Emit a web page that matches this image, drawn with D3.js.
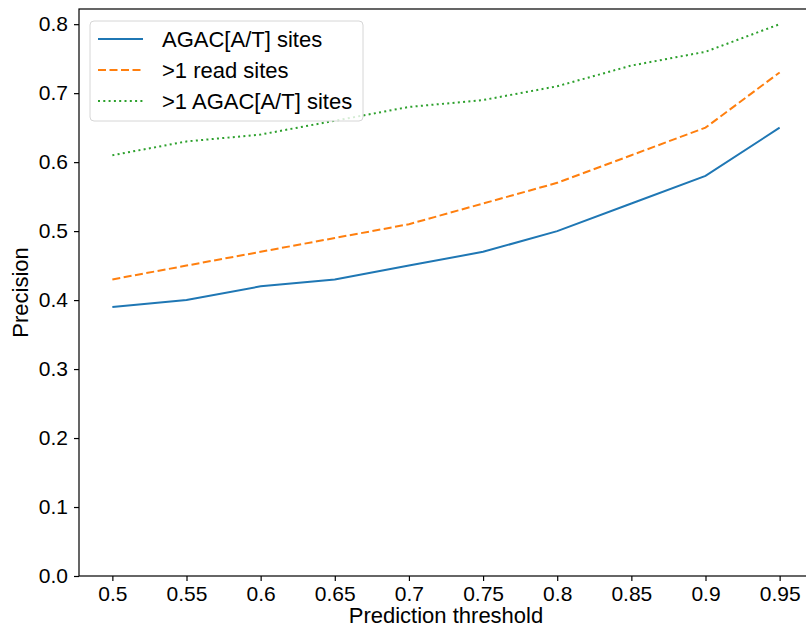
<!DOCTYPE html>
<meta charset="utf-8">
<head>
<style>
  body { margin: 0; background: #fff; }
  svg text { font-family: "Liberation Sans", Arial, sans-serif; fill: #000; }
  .axis path, .axis line { stroke: #000; stroke-width: 1.2; }
</style>
</head>
<body>
<script src="https://d3js.org/d3.v7.min.js"></script>
<script>
  var thresholds = ["0.5", "0.55", "0.6", "0.65", "0.7", "0.75", "0.8", "0.85", "0.9", "0.95"];
  var agacSites = [0.39, 0.40, 0.42, 0.43, 0.45, 0.47, 0.50, 0.54, 0.58, 0.65];
  var readSites = [0.43, 0.45, 0.47, 0.49, 0.51, 0.54, 0.57, 0.61, 0.65, 0.73];
  var multiAgacSites = [0.61, 0.63, 0.64, 0.66, 0.68, 0.69, 0.71, 0.74, 0.76, 0.80];
  var yTicks = [0.0, 0.1, 0.2, 0.3, 0.4, 0.5, 0.6, 0.7, 0.8];
  var seriesNames = ["AGAC[A/T] sites", ">1 read sites", ">1 AGAC[A/T] sites"];

  var w = 806, h = 629;
  var plotLeft = 79, plotRight = 813, plotTop = 9, plotBottom = 576;

  var series = [
    { name: seriesNames[0], values: agacSites, color: "#1f77b4", dash: null },
    { name: seriesNames[1], values: readSites, color: "#ff7f0e", dash: "8,3.5" },
    { name: seriesNames[2], values: multiAgacSites, color: "#2ca02c", dash: "2,3.3" }
  ];

  var svg = d3.select("body").append("svg")
      .attr("width", w)
      .attr("height", h);

  var x = d3.scalePoint().domain(thresholds).range([plotLeft, plotRight]).padding(0.45);
  var y = d3.scaleLinear().domain([0, 0.822]).range([plotBottom, plotTop]);

  // frame (right edge falls just outside the picture)
  svg.append("rect")
      .attr("x", plotLeft).attr("y", plotTop)
      .attr("width", plotRight - plotLeft).attr("height", plotBottom - plotTop)
      .attr("fill", "none").attr("stroke", "#000").attr("stroke-width", 1.2);

  var xAxis = svg.append("g").attr("class", "axis")
      .attr("transform", "translate(0," + plotBottom + ")")
      .call(d3.axisBottom(x).tickSize(5).tickPadding(5));
  xAxis.select(".domain").remove();
  xAxis.selectAll("text").style("font-size", "21px");

  var yAxis = svg.append("g").attr("class", "axis")
      .attr("transform", "translate(" + plotLeft + ",0)")
      .call(d3.axisLeft(y).tickValues(yTicks).tickFormat(d3.format(".1f")).tickSize(5).tickPadding(6));
  yAxis.select(".domain").remove();
  yAxis.selectAll("text").style("font-size", "21px");

  var line = d3.line()
      .x(function(d, i) { return x(thresholds[i]); })
      .y(function(d) { return y(d); });

  svg.selectAll(".series")
      .data(series)
      .enter()
      .append("path")
      .attr("class", "series")
      .attr("d", function(s) { return line(s.values); })
      .attr("fill", "none")
      .attr("stroke", function(s) { return s.color; })
      .attr("stroke-width", 2)
      .attr("stroke-dasharray", function(s) { return s.dash; });

  // axis labels
  svg.append("text")
      .attr("x", 446).attr("y", 623)
      .attr("text-anchor", "middle")
      .style("font-size", "22px")
      .text("Prediction threshold");

  svg.append("text")
      .attr("transform", "translate(28," + ((plotTop + plotBottom) / 2) + ") rotate(-90)")
      .attr("text-anchor", "middle")
      .style("font-size", "22px")
      .text("Precision");

  // legend
  var legend = svg.append("g").attr("transform", "translate(90,21)");
  legend.append("rect")
      .attr("width", 273).attr("height", 100)
      .attr("rx", 4)
      .attr("fill", "#fff").attr("fill-opacity", 0.8)
      .attr("stroke", "#d6d6d6").attr("stroke-width", 1);

  var rows = legend.selectAll(".row")
      .data(series)
      .enter()
      .append("g")
      .attr("class", "row")
      .attr("transform", function(d, i) { return "translate(0," + (18 + i * 31) + ")"; });

  rows.append("line")
      .attr("x1", 8).attr("x2", 53)
      .attr("stroke", function(s) { return s.color; })
      .attr("stroke-width", 2)
      .attr("stroke-dasharray", function(s) { return s.dash; });

  rows.append("text")
      .attr("x", 72).attr("dy", "0.35em")
      .style("font-size", "22px")
      .text(function(s) { return s.name; });
</script>
</body>
